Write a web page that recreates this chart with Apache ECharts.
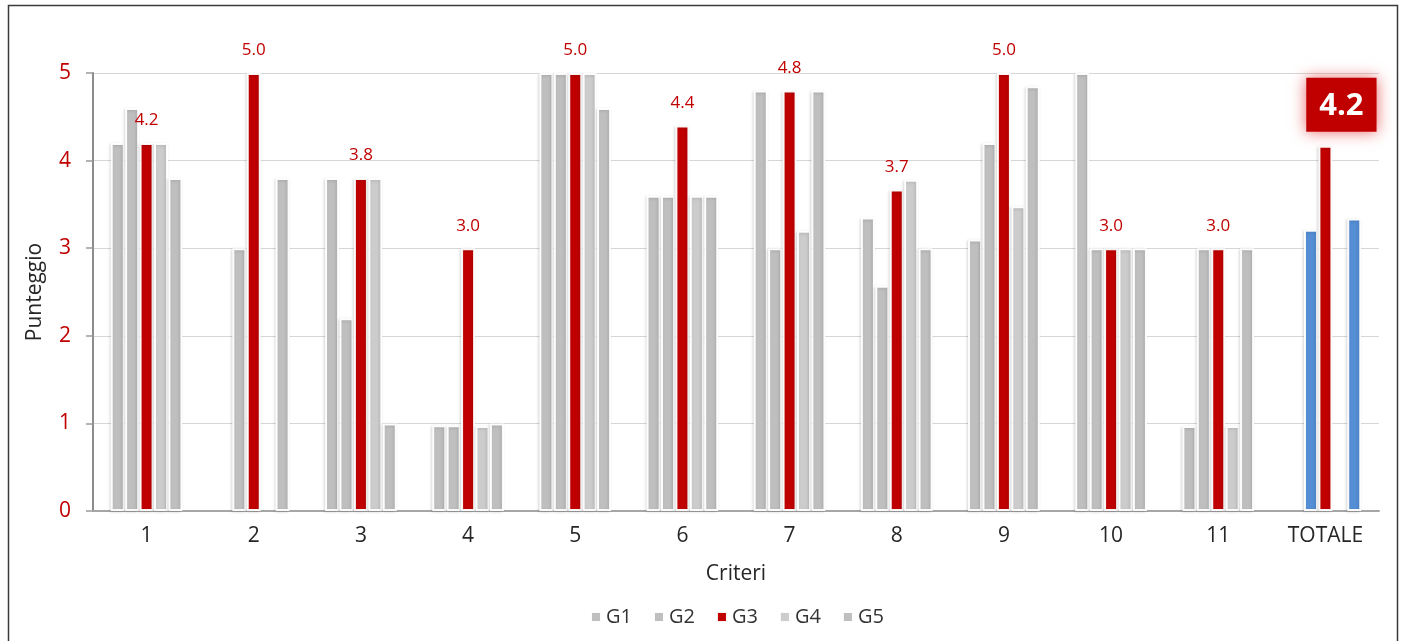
<!DOCTYPE html>
<html>
<head>
<meta charset="utf-8">
<title>Punteggio per criterio</title>
<script src="https://cdn.jsdelivr.net/npm/echarts@6/dist/echarts.min.js"></script>
<style>
  html, body { margin: 0; padding: 0; background: #ffffff; }
  #chart { width: 1406px; height: 641px; }
</style>
</head>
<body>
<div id="chart"></div>
<script>
// Criteria along the x axis, the last one being the overall total
const categories = ['1', '2', '3', '4', '5', '6', '7', '8', '9', '10', '11', 'TOTALE'];

// Scores per group (null = no bar)
const g1 = [4.2, null, 3.8, 0.98, 5.0, 3.6, 4.8, 3.35, 3.1, 5.0, 0.97, null];
const g2 = [4.6, 3.0, 2.2, 0.98, 5.0, 3.6, 3.0, 2.57, 4.2, 3.0, 3.0, 3.21];
const g3 = [4.2, 5.0, 3.8, 3.0, 5.0, 4.4, 4.8, 3.67, 5.0, 3.0, 3.0, 4.17];
const g4 = [4.2, null, 3.8, 0.97, 5.0, 3.6, 3.2, 3.78, 3.48, 3.0, 0.97, null];
const g5 = [3.8, 3.8, 1.0, 1.0, 4.6, 3.6, 4.8, 3.0, 4.85, 3.0, 3.0, 3.34];

const yTicks = [0, 1, 2, 3, 4, 5];

const FONT = 'Open Sans';
const RED = '#c00000';
const BLUE = '#558ed5';
const TOTAL_INDEX = categories.indexOf('TOTALE');

const baseItemStyle = {
  borderColor: 'rgba(255,255,255,0.95)',
  borderWidth: 2,
  shadowBlur: 3,
  shadowColor: 'rgba(0,0,0,0.15)',
  shadowOffsetX: -1,
  shadowOffsetY: 1
};

function makeSeries(name, values, color, opts) {
  opts = opts || {};
  const data = values.map(function (v, i) {
    if (v === null) return null;
    const item = { value: v };
    if (i === TOTAL_INDEX && opts.totalColor) {
      item.itemStyle = { color: opts.totalColor };
    }
    if (opts.labels) {
      item.label = { show: true };
      if (i === TOTAL_INDEX) {
        item.label = {
          show: true,
          position: 'top',
          distance: 14,
          offset: [16, 0],
          color: '#ffffff',
          fontFamily: FONT,
          fontSize: 31,
          fontWeight: 'bold',
          backgroundColor: RED,
          padding: [13, 13, 10, 13],
          shadowBlur: 14,
          shadowColor: 'rgba(230,60,60,0.75)'
        };
      }
    }
    return item;
  });
  return {
    name: name,
    type: 'bar',
    barWidth: 14,
    barGap: '3%',
    itemStyle: Object.assign({ color: color }, baseItemStyle),
    label: {
      show: false,
      position: 'top',
      distance: 14,
      color: RED,
      fontFamily: FONT,
      fontSize: 17,
      formatter: function (p) { return p.value.toFixed(1); }
    },
    data: data
  };
}

const chart = echarts.init(document.getElementById('chart'), null, { renderer: 'canvas' });

chart.setOption({
  backgroundColor: '#ffffff',
  animation: false,
  textStyle: { fontFamily: FONT },
  graphic: [{
    type: 'rect',
    shape: { x: 8.5, y: 5.5, width: 1389, height: 700 },
    style: { fill: 'none', stroke: '#3a3a3a', lineWidth: 1.5 },
    silent: true,
    z: 100
  }],
  grid: {
    left: 93,
    right: 27,
    top: 73,
    bottom: 130,
    containLabel: false,
    outerBoundsMode: 'none'
  },
  legend: {
    left: 590,
    top: 607,
    padding: 0,
    icon: 'rect',
    itemWidth: 10,
    itemHeight: 10,
    itemGap: 21,
    textStyle: { fontFamily: FONT, fontSize: 20, color: '#333333' },
    data: ['G1', 'G2', 'G3', 'G4', 'G5']
  },
  xAxis: {
    type: 'category',
    data: categories,
    boundaryGap: true,
    name: 'Criteri',
    nameLocation: 'middle',
    nameGap: 53,
    nameTextStyle: { fontFamily: FONT, fontSize: 21, color: '#262626' },
    axisLine: { show: true, lineStyle: { color: '#a6a6a6', width: 2 } },
    axisTick: { show: false },
    axisLabel: { fontFamily: FONT, fontSize: 21, color: '#262626', margin: 15 },
    splitLine: { show: false }
  },
  yAxis: {
    type: 'value',
    min: yTicks[0],
    max: yTicks[yTicks.length - 1],
    interval: 1,
    name: 'Punteggio',
    nameLocation: 'middle',
    nameGap: 47,
    nameTextStyle: { fontFamily: FONT, fontSize: 21, color: '#262626' },
    axisLine: { show: true, lineStyle: { color: '#8c8c8c', width: 2 } },
    axisTick: { show: true, inside: false, length: 7, lineStyle: { color: '#9a9a9a', width: 1.5 } },
    axisLabel: { fontFamily: FONT, fontSize: 21, color: RED, margin: 22 },
    splitLine: { show: true, lineStyle: { color: '#d6d6d6', width: 1.2 } }
  },
  series: [
    makeSeries('G1', g1, '#bfbfbf'),
    makeSeries('G2', g2, '#bfbfbf', { totalColor: BLUE }),
    makeSeries('G3', g3, RED, { labels: true }),
    makeSeries('G4', g4, '#cccccc'),
    makeSeries('G5', g5, '#bfbfbf', { totalColor: BLUE })
  ]
});
</script>
</body>
</html>
